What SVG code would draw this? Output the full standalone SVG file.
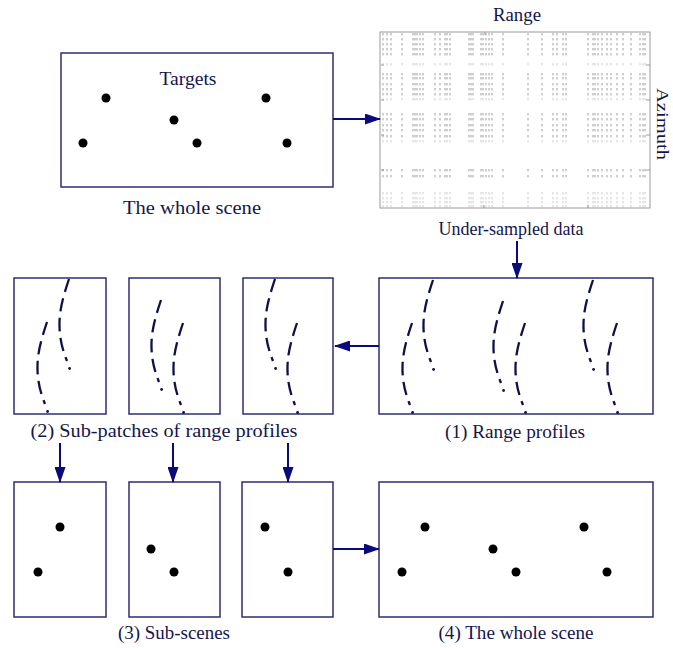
<svg xmlns="http://www.w3.org/2000/svg" xmlns:xlink="http://www.w3.org/1999/xlink" width="673" height="648" viewBox="0 0 673 648">
<style>
.box{fill:#fff;stroke:#2e2e72;stroke-width:1.5}
.panel{fill:#fff;stroke:#9a9a9a;stroke-width:1}
.lbl{font-family:"Liberation Serif","Times New Roman",serif;font-size:18px;fill:#15154a;text-anchor:middle}
.dot{fill:#000}
.arr{stroke:#0a0a7a;stroke-width:2;fill:none}
.dash{fill:none;stroke:#101048;stroke-width:2.3;stroke-dasharray:13.5 6.5}
.tick{stroke:#858585;stroke-width:0.8;fill:none}
.tickL{stroke:#b8b8b8;stroke-width:0.7;fill:none}
</style>
<defs>
<marker id="ah" viewBox="0 0 16 11" refX="15" refY="5.5" markerWidth="16" markerHeight="11" markerUnits="userSpaceOnUse" orient="auto">
<path d="M0,0 L16,5.5 L0,11 z" fill="#0a0a7a"/>
</marker>
<g id="prof">
<path class="dash" d="M0,0 C-6,18 -10,32 -9.5,48 C-9,62 -6,72 -2,82"/>
<circle cx="0.6" cy="89.5" r="1.4" fill="#101048"/>
</g>
<path id="row" d="M383 0v2.4M387 0v2.4M391 0v2.4M402 0v2.4M413 0v2.4M415 0v2.4M417 0v2.4M420 0v2.4M423 0v2.4M435 0v2.4M440 0v2.4M445 0v2.4M447 0v2.4M450 0v2.4M469 0v2.4M471 0v2.4M473 0v2.4M481 0v2.4M483 0v2.4M486 0v2.4M489 0v2.4M492 0v2.4M503 0v2.4M528 0v2.4M542 0v2.4M553 0v2.4M557 0v2.4M563 0v2.4M566 0v2.4M588 0v2.4M593 0v2.4M595 0v2.4M598 0v2.4M602 0v2.4M607 0v2.4M611 0v2.4M617 0v2.4M623 0v2.4M631 0v2.4M640 0v2.4M643 0v2.4M645 0v2.4"/>
</defs>

<g id="scene-top">
<rect class="box" x="61" y="53" width="272" height="134"/>
<text class="lbl" x="188" y="85" textLength="57" lengthAdjust="spacingAndGlyphs">Targets</text>
<circle class="dot" cx="106" cy="98" r="4.5"/>
<circle class="dot" cx="266" cy="98" r="4.5"/>
<circle class="dot" cx="174" cy="120" r="4.5"/>
<circle class="dot" cx="83" cy="143" r="4.5"/>
<circle class="dot" cx="197" cy="143" r="4.5"/>
<circle class="dot" cx="287" cy="143" r="4.5"/>
<text class="lbl" x="192" y="214" textLength="138" lengthAdjust="spacingAndGlyphs">The whole scene</text>
</g>

<g id="data">
<text class="lbl" x="517" y="21" textLength="48" lengthAdjust="spacingAndGlyphs">Range</text>
<rect class="panel" x="380" y="32" width="270" height="176"/>
<g class="tick">
<use xlink:href="#row" y="33"/><use xlink:href="#row" y="38"/><use xlink:href="#row" y="43"/><use xlink:href="#row" y="48"/><use xlink:href="#row" y="53"/>
<use xlink:href="#row" y="73"/><use xlink:href="#row" y="77"/><use xlink:href="#row" y="83"/><use xlink:href="#row" y="88"/><use xlink:href="#row" y="93"/>
<use xlink:href="#row" y="113"/><use xlink:href="#row" y="118"/><use xlink:href="#row" y="124"/><use xlink:href="#row" y="129"/><use xlink:href="#row" y="135"/>
<use xlink:href="#row" y="169"/><use xlink:href="#row" y="175"/>
</g>
<g class="tickL">
<use xlink:href="#row" y="63"/><use xlink:href="#row" y="98"/><use xlink:href="#row" y="140"/>
<use xlink:href="#row" y="192"/><use xlink:href="#row" y="197"/><use xlink:href="#row" y="201"/><use xlink:href="#row" y="205"/>
</g>
<path class="tick" d="M646 65h4M646 100h4M646 135h4M646 170h4M381 65h3M381 100h3M381 135h3M381 170h3M484 205v3M485 32v3M588 205v3"/>
<text class="lbl" transform="translate(657,124) rotate(90)" style="font-size:17px" textLength="72" lengthAdjust="spacingAndGlyphs">Azimuth</text>
<text class="lbl" x="511" y="235" textLength="145" lengthAdjust="spacingAndGlyphs">Under-sampled data</text>
</g>

<g id="range-profiles">
<rect class="box" x="379" y="278" width="274" height="136"/>
<use xlink:href="#prof" x="433" y="280"/>
<use xlink:href="#prof" x="412" y="323"/>
<use xlink:href="#prof" x="503" y="301"/>
<use xlink:href="#prof" x="525" y="323"/>
<use xlink:href="#prof" x="593" y="280"/>
<use xlink:href="#prof" x="617" y="323"/>
<text class="lbl" x="515" y="438" textLength="140" lengthAdjust="spacingAndGlyphs">(1) Range profiles</text>
</g>

<g id="sub-patch-1">
<rect class="box" x="14" y="278" width="92" height="136"/>
<use xlink:href="#prof" x="69" y="279"/>
<use xlink:href="#prof" x="47" y="322"/>
</g>
<g id="sub-patch-2">
<rect class="box" x="129" y="278" width="91" height="136"/>
<use xlink:href="#prof" x="161" y="300"/>
<use xlink:href="#prof" x="183" y="323"/>
</g>
<g id="sub-patch-3">
<rect class="box" x="243" y="278" width="90" height="136"/>
<use xlink:href="#prof" x="275" y="279"/>
<use xlink:href="#prof" x="297" y="323"/>
</g>
<text class="lbl" x="164" y="437" textLength="267" lengthAdjust="spacingAndGlyphs">(2) Sub-patches of range profiles</text>

<g id="sub-scene-1">
<rect class="box" x="14" y="482" width="92" height="135"/>
<circle class="dot" cx="60" cy="527" r="4.5"/>
<circle class="dot" cx="38" cy="572" r="4.5"/>
</g>
<g id="sub-scene-2">
<rect class="box" x="129" y="482" width="91" height="135"/>
<circle class="dot" cx="151" cy="549" r="4.5"/>
<circle class="dot" cx="174" cy="572" r="4.5"/>
</g>
<g id="sub-scene-3">
<rect class="box" x="242" y="482" width="91" height="135"/>
<circle class="dot" cx="265" cy="527" r="4.5"/>
<circle class="dot" cx="288" cy="572" r="4.5"/>
</g>
<text class="lbl" x="174" y="639" textLength="112" lengthAdjust="spacingAndGlyphs">(3) Sub-scenes</text>

<g id="scene-final">
<rect class="box" x="379" y="482" width="274" height="135"/>
<circle class="dot" cx="425" cy="527" r="4.5"/>
<circle class="dot" cx="584" cy="527" r="4.5"/>
<circle class="dot" cx="493" cy="549" r="4.5"/>
<circle class="dot" cx="402" cy="572" r="4.5"/>
<circle class="dot" cx="516" cy="572" r="4.5"/>
<circle class="dot" cx="607" cy="572" r="4.5"/>
<text class="lbl" x="516" y="639" textLength="155" lengthAdjust="spacingAndGlyphs">(4) The whole scene</text>
</g>

<g id="connectors">
<path class="arr" marker-end="url(#ah)" d="M333 119H380"/>
<path class="arr" marker-end="url(#ah)" d="M517 241V278"/>
<path class="arr" marker-end="url(#ah)" d="M379 346H335"/>
<path class="arr" marker-end="url(#ah)" d="M60 443V482"/>
<path class="arr" marker-end="url(#ah)" d="M173 443V482"/>
<path class="arr" marker-end="url(#ah)" d="M288 443V482"/>
<path class="arr" marker-end="url(#ah)" d="M333 549H379"/>
</g>
</svg>
